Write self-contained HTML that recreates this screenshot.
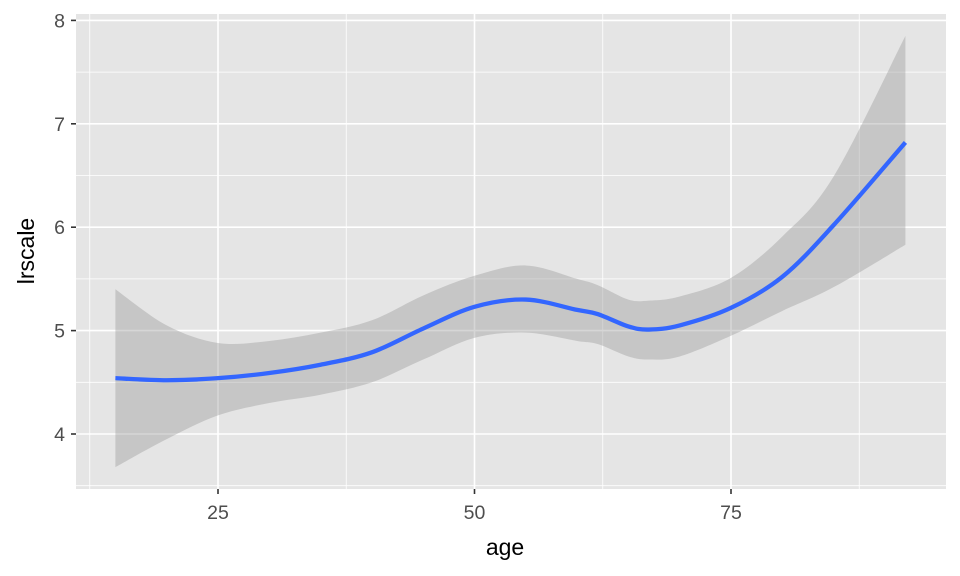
<!DOCTYPE html>
<html><head><meta charset="utf-8"><style>
html,body{margin:0;padding:0;background:#fff}
svg{display:block;font-family:"Liberation Sans",Arial,sans-serif}
</style></head><body>
<svg id="chart" width="960" height="576">
<rect x="76" y="14" width="870" height="475" fill="#e5e5e5"/>
<g id="grid"></g>
<g id="marks"></g>
<g id="axes"></g>
<text x="505" y="555" font-size="23" text-anchor="middle" fill="#000">age</text>
<text transform="translate(34,251) rotate(-90)" font-size="23" text-anchor="middle" fill="#000">lrscale</text>
</svg>
<script>
const ages=[15,20,25,30,35,40,45,50,55,60,62,65,67,70,75,80,85,92];
const fitVals=[4.54,4.52,4.54,4.59,4.67,4.79,5.02,5.23,5.30,5.20,5.16,5.04,5.01,5.05,5.22,5.52,6.02,6.82];
const upperVals=[5.40,5.05,4.88,4.90,4.98,5.10,5.34,5.53,5.63,5.50,5.44,5.30,5.29,5.33,5.51,5.91,6.49,7.85];
const lowerVals=[3.68,3.95,4.18,4.30,4.38,4.50,4.72,4.93,4.98,4.90,4.87,4.75,4.72,4.75,4.95,5.19,5.42,5.83];
const xTicks=[25,50,75];
const yTicks=[4,5,6,7,8];
const xMinor=[12.5,37.5,62.5,87.5];
const yMinor=[3.5,4.5,5.5,6.5,7.5];
const NS="http://www.w3.org/2000/svg";
const X=v=>218+(v-25)*10.26;
const Y=v=>434-(v-4)*103.4;
function mk(tag,attrs,parent){const e=document.createElementNS(NS,tag);for(const k in attrs)e.setAttribute(k,attrs[k]);parent.appendChild(e);return e;}
const grid=document.getElementById('grid'),marks=document.getElementById('marks'),axes=document.getElementById('axes');
xMinor.forEach(v=>{const l=mk('line',{x1:X(v),x2:X(v),y1:14,y2:489,stroke:'#fff','stroke-width':0.8},grid);

});
yMinor.forEach(v=>{const l=mk('line',{x1:76,x2:946,y1:Y(v),y2:Y(v),stroke:'#fff','stroke-width':0.8},grid);

});
xTicks.forEach(v=>{const l=mk('line',{x1:X(v),x2:X(v),y1:14,y2:489,stroke:'#fff','stroke-width':1.6},grid);


const t=mk('line',{x1:X(v),x2:X(v),y1:489,y2:494,stroke:'#333','stroke-width':1.6},axes);


const tx=mk('text',{x:X(v),y:519,'font-size':19.5,'text-anchor':'middle',fill:'#4d4d4d'},axes);tx.textContent=v;

});
yTicks.forEach(v=>{const l=mk('line',{x1:76,x2:946,y1:Y(v),y2:Y(v),stroke:'#fff','stroke-width':1.6},grid);


const t=mk('line',{x1:71,x2:76,y1:Y(v),y2:Y(v),stroke:'#333','stroke-width':1.6},axes);


const tx=mk('text',{x:65,y:Y(v)+7,'font-size':19.5,'text-anchor':'end',fill:'#4d4d4d'},axes);tx.textContent=v;

});
function spline(pts){let d=`M${pts[0][0]},${pts[0][1]}`;for(let i=0;i<pts.length-1;i++){const p0=pts[Math.max(i-1,0)],p1=pts[i],p2=pts[i+1],p3=pts[Math.min(i+2,pts.length-1)];
const c1=[p1[0]+(p2[0]-p0[0])/6,p1[1]+(p2[1]-p0[1])/6],c2=[p2[0]-(p3[0]-p1[0])/6,p2[1]-(p3[1]-p1[1])/6];
d+=` C${c1[0]},${c1[1]} ${c2[0]},${c2[1]} ${p2[0]},${p2[1]}`;}return d;}
const up=ages.map((a,i)=>[X(a),Y(upperVals[i])]);
const lo=ages.map((a,i)=>[X(a),Y(lowerVals[i])]).reverse();
const rib=mk('path',{d:spline(up)+' L'+spline(lo).slice(1)+' Z',fill:'#999','fill-opacity':0.4},marks);


const fl=mk('path',{d:spline(ages.map((a,i)=>[X(a),Y(fitVals[i])])),fill:'none',stroke:'#3366ff','stroke-width':4.3},marks);


</script>
</body></html>
